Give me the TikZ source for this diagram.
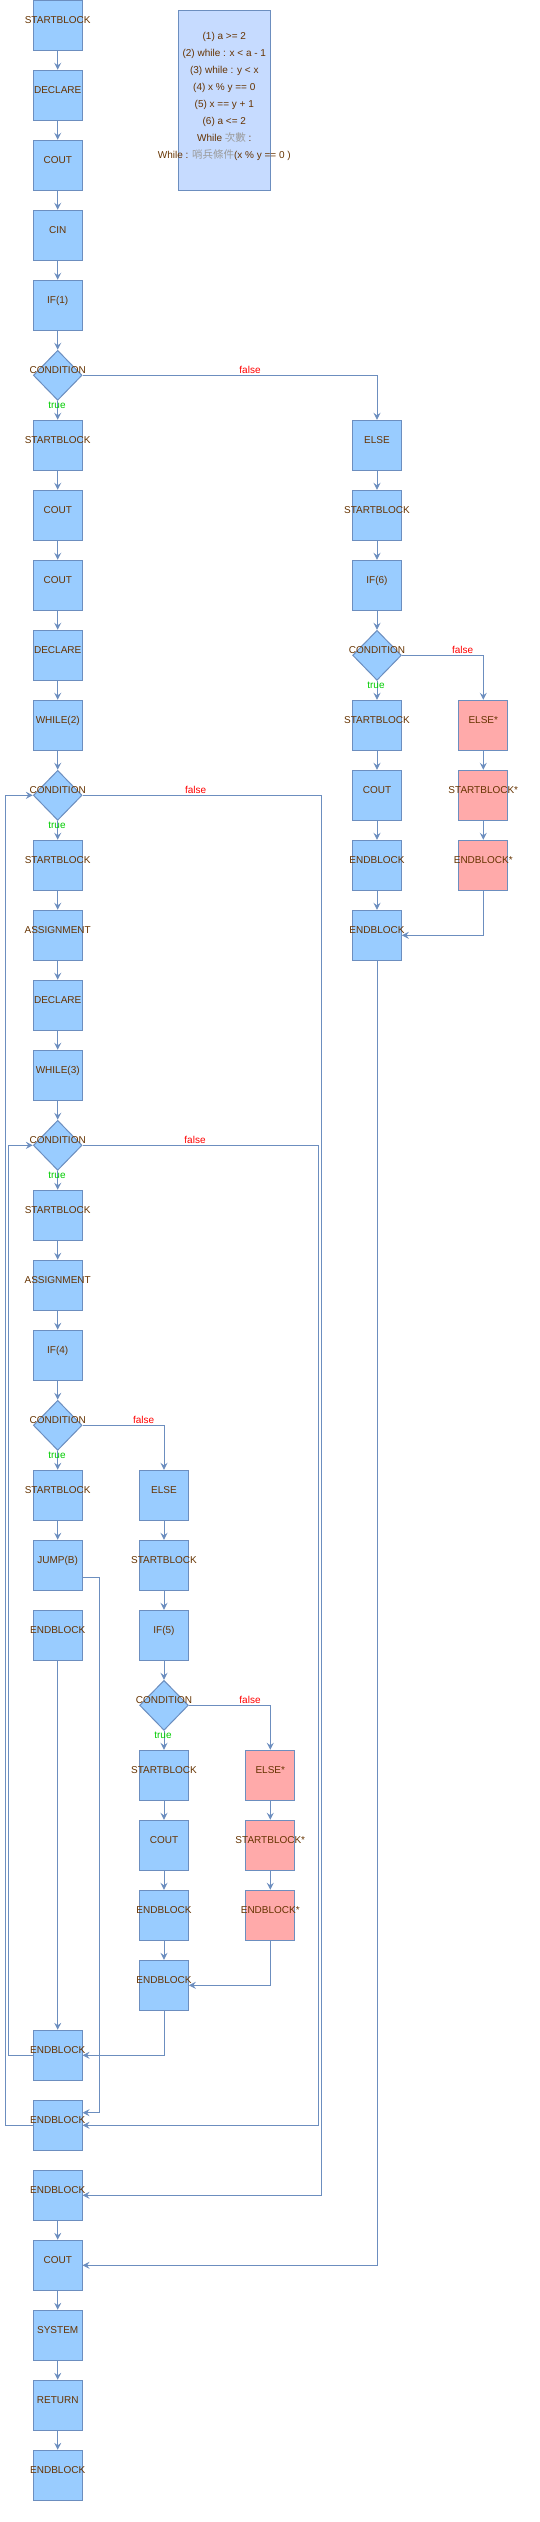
\documentclass[tikz,border=0pt]{standalone}
\usepackage{fontspec}
\setmainfont{Liberation Sans}
\newfontfamily\cjk{Noto Sans CJK TC}
\usetikzlibrary{arrows.meta,shapes.geometric}
\definecolor{edge}{HTML}{6C8EBF}
\definecolor{boxfill}{HTML}{99CCFF}
\definecolor{pinkfill}{HTML}{FFAAAA}
\definecolor{notefill}{HTML}{C6DBFF}
\definecolor{txt}{HTML}{663300}
\definecolor{cjkgray}{HTML}{9A9A9A}
\definecolor{truec}{HTML}{00CC00}
\definecolor{falsec}{HTML}{FF0000}
\begin{document}
\begin{tikzpicture}[x=1pt,y=-1pt,
  every node/.style={font=\fontsize{10}{12}\selectfont, text=txt},
  blk/.style={draw=edge, fill=boxfill, line width=1pt, minimum width=48.7pt, minimum height=50pt, inner sep=0pt, text height=8pt, text depth=11.4pt,
    execute at begin node={\hbox to 0pt\bgroup\hss}, execute at end node={\hss\egroup}},
  pblk/.style={blk, fill=pinkfill},
  cond/.style={diamond, draw=edge, fill=boxfill, line width=1pt, minimum width=48.7pt, minimum height=50pt, inner sep=0pt},
  ctext/.style={inner sep=0pt},
  truel/.style={text=truec, inner sep=0pt},
  falsel/.style={text=falsec, inner sep=0pt},
  arr/.style={draw=edge, line width=1pt, -{Stealth[length=7pt,width=7pt,inset=2.5pt]}},
  ln/.style={draw=edge, line width=1pt}
]
\useasboundingbox (0,0) rectangle (540,2522);

% note
\node[draw=edge, fill=notefill, line width=1pt, minimum width=92pt, minimum height=180pt, inner sep=0pt] (note) at (224.3,100.3) {};
\node[align=center, font=\fontsize{10}{17}\selectfont, inner sep=0pt] (notetxt) at (224.3,96.4) {(1) a >= 2\\(2) while : x < a - 1\\(3) while : y < x\\(4) x \% y == 0\\(5) x == y + 1\\(6) a <= 2\\While {\cjk\fontsize{10.5}{17}\selectfont\color{cjkgray}次數} :\\While : {\cjk\fontsize{10.5}{17}\selectfont\color{cjkgray}哨兵條件}(x \% y == 0 )};

% main column
\node[blk] (m0) at (57.7,25.3) {STARTBLOCK};
\node[blk] (m1) at (57.7,95.3) {DECLARE};
\node[blk] (m2) at (57.7,165.3) {COUT};
\node[blk] (m3) at (57.7,235.3) {CIN};
\node[blk] (m4) at (57.7,305.3) {IF(1)};
\node[cond] (c1) at (57.7,375.3) {};
\node[ctext] (c1t) at (57.7,370) {CONDITION};
\node[blk] (m6) at (57.7,445.3) {STARTBLOCK};
\node[blk] (m7) at (57.7,515.3) {COUT};
\node[blk] (m8) at (57.7,585.3) {COUT};
\node[blk] (m9) at (57.7,655.3) {DECLARE};
\node[blk] (m10) at (57.7,725.3) {WHILE(2)};
\node[cond] (c2) at (57.7,795.3) {};
\node[ctext] (c2t) at (57.7,790) {CONDITION};
\node[blk] (m12) at (57.7,865.3) {STARTBLOCK};
\node[blk] (m13) at (57.7,935.3) {ASSIGNMENT};
\node[blk] (m14) at (57.7,1005.3) {DECLARE};
\node[blk] (m15) at (57.7,1075.3) {WHILE(3)};
\node[cond] (c3) at (57.7,1145.3) {};
\node[ctext] (c3t) at (57.7,1140) {CONDITION};
\node[blk] (m17) at (57.7,1215.3) {STARTBLOCK};
\node[blk] (m18) at (57.7,1285.3) {ASSIGNMENT};
\node[blk] (m19) at (57.7,1355.3) {IF(4)};
\node[cond] (c4) at (57.7,1425.3) {};
\node[ctext] (c4t) at (57.7,1420) {CONDITION};
\node[blk] (m21) at (57.7,1495.3) {STARTBLOCK};
\node[blk] (m22) at (57.7,1565.3) {JUMP(B)};
\node[blk] (m23) at (57.7,1635.3) {ENDBLOCK};
\node[blk] (m29) at (57.7,2055.3) {ENDBLOCK};
\node[blk] (m30) at (57.7,2125.3) {ENDBLOCK};
\node[blk] (m31) at (57.7,2195.3) {ENDBLOCK};
\node[blk] (m32) at (57.7,2265.3) {COUT};
\node[blk] (m33) at (57.7,2335.3) {SYSTEM};
\node[blk] (m34) at (57.7,2405.3) {RETURN};
\node[blk] (m35) at (57.7,2475.3) {ENDBLOCK};

% second column
\node[blk] (b21) at (164,1495.3) {ELSE};
\node[blk] (b22) at (164,1565.3) {STARTBLOCK};
\node[blk] (b23) at (164,1635.3) {IF(5)};
\node[cond] (c5) at (164,1705.3) {};
\node[ctext] (c5t) at (164,1700) {CONDITION};
\node[blk] (b25) at (164,1775.3) {STARTBLOCK};
\node[blk] (b26) at (164,1845.3) {COUT};
\node[blk] (b27) at (164,1915.3) {ENDBLOCK};
\node[blk] (b28) at (164,1985.3) {ENDBLOCK};

% third column
\node[pblk] (p25) at (270.3,1775.3) {ELSE*};
\node[pblk] (p26) at (270.3,1845.3) {STARTBLOCK*};
\node[pblk] (p27) at (270.3,1915.3) {ENDBLOCK*};

% fourth column
\node[blk] (r6) at (377,445.3) {ELSE};
\node[blk] (r7) at (377,515.3) {STARTBLOCK};
\node[blk] (r8) at (377,585.3) {IF(6)};
\node[cond] (c6) at (377,655.3) {};
\node[ctext] (c6t) at (377,650) {CONDITION};
\node[blk] (r10) at (377,725.3) {STARTBLOCK};
\node[blk] (r11) at (377,795.3) {COUT};
\node[blk] (r12) at (377,865.3) {ENDBLOCK};
\node[blk] (r13) at (377,935.3) {ENDBLOCK};

% fifth column
\node[pblk] (q10) at (483.3,725.3) {ELSE*};
\node[pblk] (q11) at (483.3,795.3) {STARTBLOCK*};
\node[pblk] (q12) at (483.3,865.3) {ENDBLOCK*};

% straight arrows main column
\draw[arr] (m0) -- (m1);
\draw[arr] (m1) -- (m2);
\draw[arr] (m2) -- (m3);
\draw[arr] (m3) -- (m4);
\draw[arr] (m4) -- (c1.north);
\draw[arr] (c1.south) -- (m6);
\draw[arr] (m6) -- (m7);
\draw[arr] (m7) -- (m8);
\draw[arr] (m8) -- (m9);
\draw[arr] (m9) -- (m10);
\draw[arr] (m10) -- (c2.north);
\draw[arr] (c2.south) -- (m12);
\draw[arr] (m12) -- (m13);
\draw[arr] (m13) -- (m14);
\draw[arr] (m14) -- (m15);
\draw[arr] (m15) -- (c3.north);
\draw[arr] (c3.south) -- (m17);
\draw[arr] (m17) -- (m18);
\draw[arr] (m18) -- (m19);
\draw[arr] (m19) -- (c4.north);
\draw[arr] (c4.south) -- (m21);
\draw[arr] (m21) -- (m22);
\draw[arr] (m23) -- (m29);
\draw[arr] (m31) -- (m32);
\draw[arr] (m32) -- (m33);
\draw[arr] (m33) -- (m34);
\draw[arr] (m34) -- (m35);

% second column arrows
\draw[arr] (c4.east) -| (b21.north);
\draw[arr] (b21) -- (b22);
\draw[arr] (b22) -- (b23);
\draw[arr] (b23) -- (c5.north);
\draw[arr] (c5.south) -- (b25);
\draw[arr] (b25) -- (b26);
\draw[arr] (b26) -- (b27);
\draw[arr] (b27) -- (b28);
\draw[arr] (c5.east) -| (p25.north);
\draw[arr] (p25) -- (p26);
\draw[arr] (p26) -- (p27);
\draw[arr] (p27.south) |- (b28.east);
\draw[arr] (b28.south) |- (m29.east);

% fourth/fifth columns
\draw[arr] (c1.east) -| (r6.north);
\draw[arr] (r6) -- (r7);
\draw[arr] (r7) -- (r8);
\draw[arr] (r8) -- (c6.north);
\draw[arr] (c6.south) -- (r10);
\draw[arr] (r10) -- (r11);
\draw[arr] (r11) -- (r12);
\draw[arr] (r12) -- (r13);
\draw[arr] (c6.east) -| (q10.north);
\draw[arr] (q10) -- (q11);
\draw[arr] (q11) -- (q12);
\draw[arr] (q12.south) |- (r13.east);
\draw[arr] (r13.south) |- (m32.east);

% loops
\coordinate (k2) at (321.7,795.3);
\coordinate (k3) at (318.7,1145.3);
\draw[arr] (c2.east) -- (k2) |- (m31.east);
\draw[arr] (c3.east) -- (k3) |- (m30.east);
\draw[arr] ([yshift=-12pt]m22.east) -- ++(17,0) |- ([yshift=12.6pt]m30.east);
\draw[arr] (m29.west) -- ++(-24.3,0) |- (c3.west);
\draw[arr] (m30.west) -- ++(-27.3,0) |- (c2.west);

% labels
\node[falsel] (f1) at (250,370) {false};
\node[truel] (t1) at (57,405) {true};
\node[falsel] (f2) at (195.7,790) {false};
\node[truel] (t2) at (57,825) {true};
\node[falsel] (f3) at (195,1140) {false};
\node[truel] (t3) at (57,1175) {true};
\node[falsel] (f4) at (143.7,1420) {false};
\node[truel] (t4) at (57,1455) {true};
\node[falsel] (f5) at (250,1700) {false};
\node[truel] (t5) at (163,1735) {true};
\node[falsel] (f6) at (462.7,650) {false};
\node[truel] (t6) at (376,685) {true};
\end{tikzpicture}
\end{document}
